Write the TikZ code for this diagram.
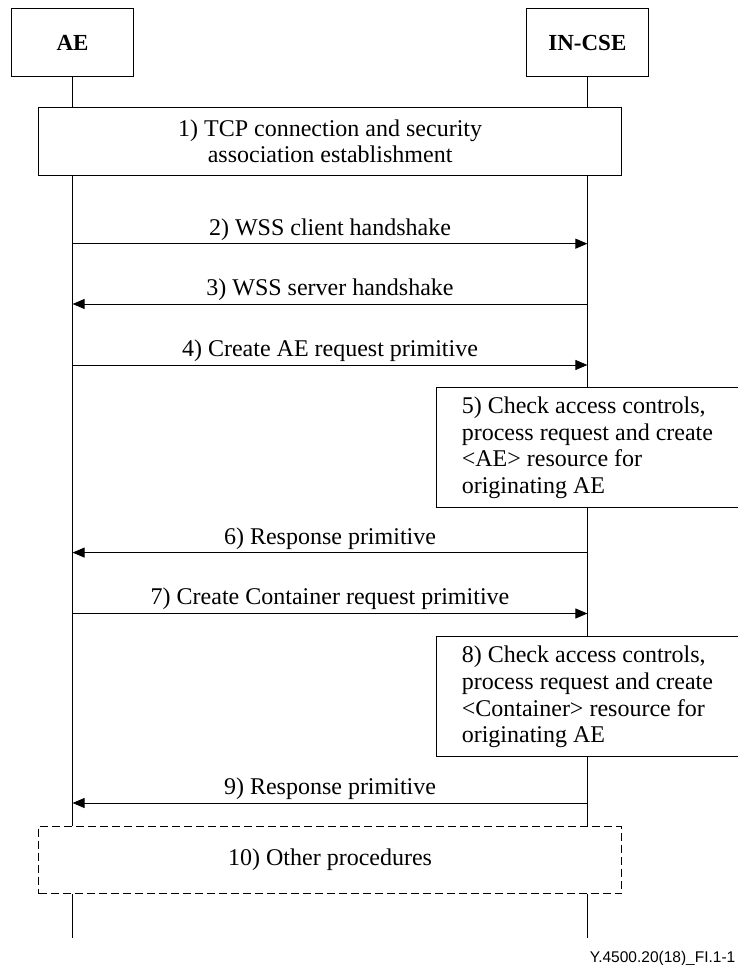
\documentclass[tikz,border=0pt]{standalone}
\usepackage{fontspec}
\setmainfont{Liberation Serif}
\newfontfamily\footfont{Liberation Sans}
\usepackage{tikz}
\usetikzlibrary{arrows.meta}
\newcommand{\fsz}{\fontsize{24}{26.6}\selectfont}
\newcommand{\hsz}{\fontsize{23}{26}\selectfont}
\tikzset{
  box/.style={draw, line width=1pt, align=center, inner sep=4pt, font=\fsz},
  hbox/.style={box, minimum width=122pt, minimum height=68pt, font=\hsz\bfseries},
  wbox/.style={box, fill=white, minimum width=583pt, minimum height=67.5pt},
  pbox/.style={box, fill=white, align=left, minimum width=302pt, minimum height=120pt},
  obox/.style={wbox, dash pattern=on 8pt off 4pt},
  life/.style={draw, line width=0.9pt},
  msg/.style={-{Triangle[length=12pt,width=10pt]}, line width=0.9pt},
  lbl/.style={font=\fsz, above, inner sep=3pt},
}
\begin{document}
\begin{tikzpicture}[x=1pt,y=1pt]
\useasboundingbox (0,0) rectangle (737,965);
% heads and lifelines
\node[hbox] (ae) at (72.6,922) {AE};
\node[hbox] (cse) at (587.4,922) {IN-CSE};
\coordinate (aeEnd) at (72.6,26.5);
\coordinate (cseEnd) at (587.4,26.5);
\draw[life] (ae.south) -- (aeEnd);
\draw[life] (cse.south) -- (cseEnd);
% message end points
\coordinate (ae2) at (72.6,721.3);  \coordinate (cse2) at (587.4,721.3);
\coordinate (ae3) at (72.6,661);    \coordinate (cse3) at (587.4,661);
\coordinate (ae4) at (72.6,600);    \coordinate (cse4) at (587.4,600);
\coordinate (ae6) at (72.6,412.4);  \coordinate (cse6) at (587.4,412.4);
\coordinate (ae7) at (72.6,351.5);  \coordinate (cse7) at (587.4,351.5);
\coordinate (ae9) at (72.6,162);    \coordinate (cse9) at (587.4,162);
% steps
\node[wbox] (tcp) at (330.1,823.5) {1) TCP connection and security\\association establishment};
\draw[msg] (ae2) -- node[lbl]{2) WSS client handshake} (cse2);
\draw[msg] (cse3) -- node[lbl]{3) WSS server handshake} (ae3);
\draw[msg] (ae4) -- node[lbl]{4) Create AE request primitive} (cse4);
\node[pbox] (chkae) at (587.4,517.3) {5) Check access controls,\\process request and create\\<AE> resource for\\originating AE};
\draw[msg] (cse6) -- node[lbl]{6) Response primitive} (ae6);
\draw[msg] (ae7) -- node[lbl]{7) Create Container request primitive} (cse7);
\node[pbox] (chkcnt) at (587.4,268) {8) Check access controls,\\process request and create\\<Container> resource for\\originating AE};
\draw[msg] (cse9) -- node[lbl]{9) Response primitive} (ae9);
\node[obox] (other) at (330.1,105) {10) Other procedures};
\node[anchor=base east, inner sep=0pt, font=\footfont\fontsize{15.5}{18}\selectfont] (fig) at (735.5,2.5) {Y.4500.20(18)\_FI.1-1};
\end{tikzpicture}
\end{document}
